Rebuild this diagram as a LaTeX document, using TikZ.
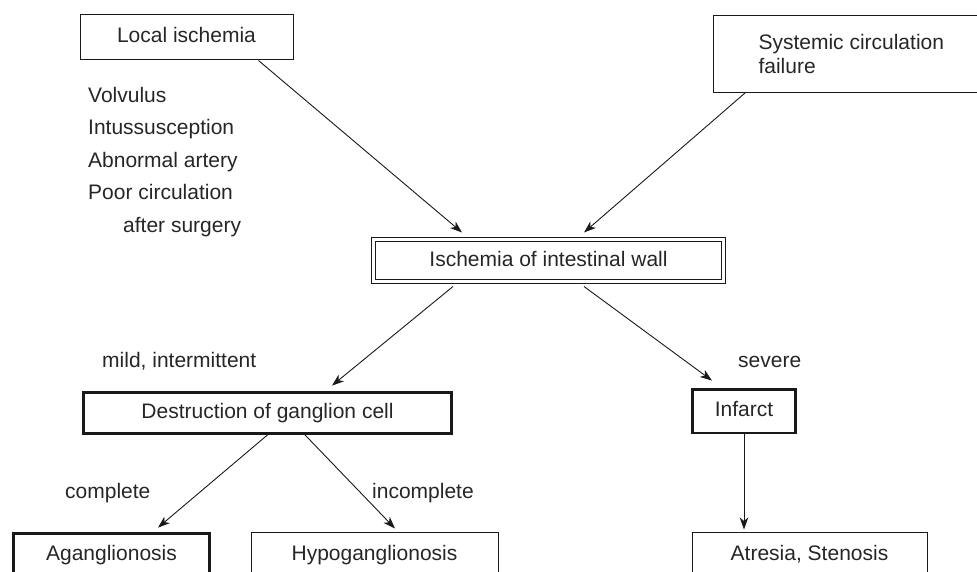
\documentclass[tikz,border=0pt]{standalone}
\usepackage{fontspec}
\setmainfont{Liberation Sans}
\usetikzlibrary{positioning, calc}
\usetikzlibrary{arrows.meta}

\begin{document}
\begin{tikzpicture}[x=1pt,y=-1pt,>={Stealth[length=12pt,width=8.5pt,inset=3.5pt]},font=\fontsize{21}{24}\selectfont]
\tikzset{
  boxbase/.style={draw=black!90,line width=1pt,inner sep=0pt,text=black!85},
  thinbox/.style={boxbase,text height=15pt,text depth=4pt},
  thickbox/.style={thinbox,line width=2.8pt},
  dblbox/.style={thinbox,double,double distance=3pt,line width=1pt},
  lbl/.style={text=black!85,inner sep=0pt,anchor=base west},
  arr/.style={->,line width=0.9pt,black!90}
}
\useasboundingbox (0,0) rectangle (977,572);
\clip (0,0) rectangle (977,572);

% ------ causes ------
\node[thinbox,minimum width=213pt,minimum height=45pt] (local) at (186.5,37.5) {Local ischemia};
\node[boxbase,align=left,inner xsep=45pt,inner ysep=0pt,minimum height=77pt,anchor=north west] (systemic) at (713,15) {Systemic circulation\\failure};

\foreach \k/\y/\txt in {1/103/Volvulus,2/135/Intussusception,3/168/Abnormal artery,4/200/Poor circulation}{
  \node[lbl] (cause\k) at (88,\y) {\txt};
}
\node[lbl] (cause5) at (123,233) {after surgery};

% ------ centre ------
\node[dblbox,minimum width=350pt,minimum height=42pt] (ischemia) at (548.5,260.5) {Ischemia of intestinal wall};

% ------ second row ------
\node[thickbox,minimum width=368pt,minimum height=41pt] (destruct) at (267.5,413) {Destruction of ganglion cell};
\node[thickbox,minimum width=103pt,minimum height=43.5pt] (infarct) at (744,411.25) {Infarct};
\node[lbl] (mild) at (102,367.5) {mild, intermittent};
\node[lbl] (severe) at (738,367.5) {severe};

% ------ bottom row (cut by the page edge) ------
\node[thickbox,minimum width=196pt,minimum height=43pt] (agang) at (111.5,555) {Aganglionosis};
\node[thinbox,minimum width=247pt,minimum height=45pt] (hypo) at (374.5,555) {Hypoganglionosis};
\node[thinbox,minimum width=235pt,minimum height=45pt] (atresia) at (809.5,555) {Atresia, Stenosis};
\node[lbl] (complete) at (65,498.5) {complete};
\node[lbl] (incomplete) at (372,498.5) {incomplete};

% ------ arrows ------
\draw[arr] ([xshift=-35pt]local.south east) -- ([xshift=-86.5pt,yshift=6.5pt]ischemia.north);
\draw[arr] ([xshift=32pt]systemic.south west) -- ([xshift=35.5pt,yshift=6.5pt]ischemia.north);
\draw[arr] ([xshift=-95.5pt,yshift=-4.5pt]ischemia.south) -- ([xshift=64.5pt,yshift=5.5pt]destruct.north);
\draw[arr] ([xshift=35.5pt,yshift=-4.5pt]ischemia.south) -- ([xshift=-32pt,yshift=7.5pt]infarct.north);
\draw[arr] (destruct.south) -- ([xshift=46.5pt,yshift=4.5pt]agang.north);
\draw[arr] ([xshift=37.5pt]destruct.south) -- ([xshift=20.5pt,yshift=3.5pt]hypo.north);
\draw[arr] (infarct.south) -- ([xshift=-65.5pt,yshift=2.5pt]atresia.north);
\end{tikzpicture}
\end{document}
